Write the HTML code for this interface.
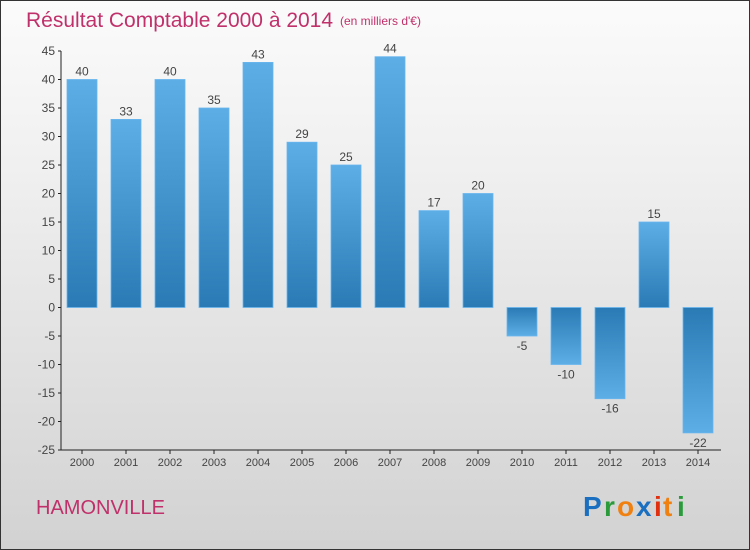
<!DOCTYPE html>
<html><head><meta charset="utf-8"><style>
body{margin:0;width:750px;height:550px;overflow:hidden;font-family:"Liberation Sans",sans-serif}
#wrap{position:absolute;left:0;top:0;width:748px;height:548px;border:1px solid #333;background:linear-gradient(#fbfbfb,#f0f0f0 30%,#d2d2d2)}
</style></head><body>
<div id="wrap">
<svg width="750" height="550" style="position:absolute;left:-1px;top:-1px">
<defs>
<linearGradient id="gp" x1="0" y1="0" x2="0" y2="1"><stop offset="0" stop-color="#5dade6"/><stop offset="1" stop-color="#2a7ab5"/></linearGradient>
<linearGradient id="gn" x1="0" y1="0" x2="0" y2="1"><stop offset="0" stop-color="#2a7ab5"/><stop offset="1" stop-color="#5dade6"/></linearGradient>
</defs>
<text x="26" y="27" font-size="21" fill="#c0306a">Résultat Comptable 2000 à 2014</text>
<text x="340" y="25" font-size="12" fill="#c0306a">(en milliers d'€)</text>
<g id="plot"></g>
<text x="36" y="514" font-size="20" fill="#c0306a">HAMONVILLE</text>
<g font-size="28" font-weight="bold" font-family="'Liberation Sans',sans-serif">
<text x="583" y="516" fill="#1a6fc0">P</text><text x="604" y="516" fill="#2a9a3a">r</text><text x="617" y="516" fill="#f08010">o</text><text x="636" y="516" fill="#1a6fc0">x</text><text x="654" y="516" fill="#e03010">i</text><text x="663" y="516" fill="#f08010">t</text><text x="677" y="516" fill="#2a9a3a">i</text>
</g>
</svg></div>
<script>
const years=["2000","2001","2002","2003","2004","2005","2006","2007","2008","2009","2010","2011","2012","2013","2014"];
const values=[40,33,40,35,43,29,25,44,17,20,-5,-10,-16,15,-22];
const yTicks=[-25,-20,-15,-10,-5,0,5,10,15,20,25,30,35,40,45];
const NS="http://www.w3.org/2000/svg";
const g=document.getElementById('plot');
const y=v=>307.5-v*(256.5/45);
const x=i=>82+i*44;
function el(t,a,txt){const e=document.createElementNS(NS,t);for(const k in a)e.setAttribute(k,a[k]);if(txt!==undefined)e.textContent=txt;g.appendChild(e);return e;}
const ya=el('line',{x1:61,y1:y(45),x2:61,y2:y(-25),stroke:'#222','stroke-width':1});


const xa=el('line',{x1:61,y1:y(-25),x2:721,y2:y(-25),stroke:'#222','stroke-width':1});


yTicks.forEach(v=>{
 el('line',{x1:58,x2:61,y1:y(v),y2:y(v),stroke:'#222'});
 const t=el('text',{x:55,y:y(v)+4,'text-anchor':'end','font-size':12,fill:'#444'},v);
 
 
});
years.forEach((yr,i)=>{
 el('line',{x1:x(i),x2:x(i),y1:y(-25),y2:y(-25)+4,stroke:'#222'});
 const t=el('text',{x:x(i),y:y(-25)+16,'text-anchor':'middle','font-size':11,fill:'#444'},yr);
 
 
 const v=values[i];
 const top=Math.min(y(v),y(0)),h=Math.abs(y(v)-y(0));
 const b=el('rect',{x:x(i)-15,y:top,width:30,height:h,fill:v>=0?'url(#gp)':'url(#gn)',stroke:'#6ab6ee','stroke-width':0.8});
 
 
 const l=el('text',{x:x(i),y:v>=0?y(v)-4:y(v)+14,'text-anchor':'middle','font-size':12,fill:'#444'},v<0?'-'+Math.abs(v):v);
 
 
});
</script>
</body></html>
